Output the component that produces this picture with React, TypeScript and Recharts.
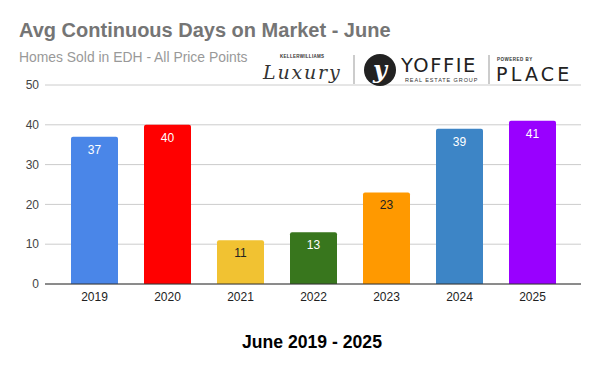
import { Bar, BarChart, CartesianGrid, Cell, LabelList, XAxis, YAxis } from "recharts";

const years = ["2019", "2020", "2021", "2022", "2023", "2024", "2025"];
const days = [37, 40, 11, 13, 23, 39, 41];
const barColors = ["#4a86e8", "#ff0000", "#f1c232", "#38761d", "#ff9900", "#3d85c6", "#9900ff"];
const labelColors = ["#fff", "#fff", "#222", "#fff", "#222", "#fff", "#fff"];
const yTicks = [0, 10, 20, 30, 40, 50];

const data = years.map((year, i) => ({ year, days: days[i] }));

const FONT = "'Liberation Sans', Arial, sans-serif";

function BarValue(props: any) {
  const { x, y, width, value, index } = props;
  return (
    <text
      x={x + width / 2}
      y={y + 17}
      textAnchor="middle"
      fontSize={12}
      fontFamily={FONT}
      fill={labelColors[index]}
    >
      {value}
    </text>
  );
}

// title, brand strip and axis title drawn on top of the chart
function Overlay() {
  return (
    <svg
      width={600}
      height={371}
      style={{ position: "absolute", left: 0, top: 0, pointerEvents: "none" }}
    >
      <text x={19} y={37} fontSize={20} fontWeight={700} fill="#757575" fontFamily={FONT}>
        Avg Continuous Days on Market - June
      </text>
      <text x={19} y={62} fontSize={13.9} fill="#999" fontFamily={FONT}>
        Homes Sold in EDH - All Price Points
      </text>

      <text x={280} y={58} fontSize={4.5} fontWeight={700} fill="#333" fontFamily={FONT} letterSpacing={0.3}>
        KELLERWILLIAMS
      </text>
      <text x={263} y={79} fontSize={19} fontStyle="italic" fill="#333" fontFamily="'DejaVu Serif', serif" letterSpacing={1.8}>
        Luxury
      </text>
      <line x1={354} y1={55} x2={354} y2={84} stroke="#999" strokeWidth={1} />
      <circle cx={380} cy={70} r={16} fill="#222" />
      <text x={380} y={78} textAnchor="middle" fontSize={24} fontWeight={700} fontStyle="italic" fill="#fff" fontFamily="'DejaVu Serif', serif">
        y
      </text>
      <text x={401} y={72} fontSize={19.5} fill="#222" fontFamily="'DejaVu Sans', sans-serif" letterSpacing={1.5}>
        YOFFIE
      </text>
      <text x={405} y={82} fontSize={5.5} fill="#333" fontFamily={FONT} letterSpacing={0.9}>
        REAL ESTATE GROUP
      </text>
      <line x1={489} y1={55} x2={489} y2={84} stroke="#999" strokeWidth={1} />
      <text x={497} y={61} fontSize={4.5} fontWeight={700} fill="#333" fontFamily={FONT} letterSpacing={0.5}>
        POWERED BY
      </text>
      <text x={496} y={81} fontSize={19} fill="#222" fontFamily="'DejaVu Sans', sans-serif" letterSpacing={3.2}>
        PLACE
      </text>

      <text x={312} y={348} textAnchor="middle" fontSize={17.6} fontWeight={700} fill="#000" fontFamily={FONT}>
        June 2019 - 2025
      </text>
    </svg>
  );
}

export default function App() {
  return (
    <div style={{ position: "absolute", left: 0, top: 0, width: 600, height: 371, background: "#fff" }}>
      <BarChart
        width={600}
        height={371}
        data={data}
        margin={{ top: 85, right: 19, bottom: 57, left: 0 }}
      >
        <CartesianGrid stroke="#ccc" vertical={false} />
        <XAxis
          dataKey="year"
          padding={{ left: 13, right: 12 }}
          tickLine={false}
          stroke="#333"
          tick={{ fill: "#222", fontSize: 12, fontFamily: FONT }}
          height={30}
        />
        <YAxis
          domain={[0, 50]}
          ticks={yTicks}
          axisLine={false}
          tickLine={false}
          tickMargin={0}
          tick={{ fill: "#444", fontSize: 12, fontFamily: FONT }}
          width={45}
        />
        <Bar dataKey="days" barSize={47} radius={[2, 2, 0, 0]} isAnimationActive={false}>
          {data.map((d, i) => (
            <Cell key={d.year} fill={barColors[i]} />
          ))}
          <LabelList dataKey="days" content={<BarValue />} />
        </Bar>
      </BarChart>
      <Overlay />
    </div>
  );
}
